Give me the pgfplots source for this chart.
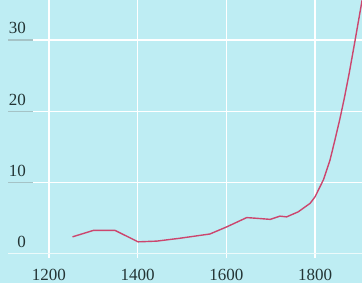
\documentclass[border=0pt]{standalone}
\usepackage{fontspec}
\setmainfont{Liberation Serif}
\usepackage{pgfplots}
\pgfplotsset{compat=1.18}
\definecolor{bgc}{RGB}{190,237,243}
\definecolor{linec}{RGB}{204,70,110}
\definecolor{txtc}{RGB}{35,52,52}
\definecolor{tickc}{RGB}{165,195,198}
\begin{document}
\begin{tikzpicture}
\begin{axis}[
  scale only axis,
  width=362pt, height=283pt,
  xmin=1089.5, xmax=1906,
  ymin=-4.07, ymax=35.6,
  axis background/.style={fill=bgc},
  axis line style={draw=none},
  major tick length=0pt,
  xtick={1200,1400,1600,1800},
  ytick={0,10,20,30},
  /pgf/number format/assume math mode=true,
  /pgf/number format/1000 sep={},
  tick label style={font=\fontsize{17}{17}\selectfont, text=txtc},
  xticklabel style={anchor=center, yshift=8pt},
  yticklabel style={anchor=base east, inner sep=0pt, xshift=26pt, yshift=6pt},
  clip=true,
]
% grid
\foreach \xx in {1200,1400,1600,1800} {
  \edef\tmp{\noexpand\draw[white, line width=1.2pt] (axis cs:\xx,-0.5) -- (axis cs:\xx,35.6);}
  \tmp
}
\foreach \yy in {10,20,30} {
  \edef\tmp{\noexpand\draw[white, line width=1.2pt] (axis cs:1108,\yy) -- (axis cs:1906,\yy);
  \noexpand\draw[tickc, line width=1.2pt] (axis cs:1108,\yy) -- (axis cs:1165,\yy);}
  \tmp
}
\draw[white!70!bgc, line width=1pt] (axis cs:1108,0) -- (axis cs:1906,0);
\addplot[linec, line width=1.4pt, line join=round] coordinates {
(1253,2.4) (1300,3.3) (1349,3.3) (1401,1.7) (1443,1.8) (1495,2.2)
(1563,2.8) (1601,3.8) (1646,5.1) (1668,5.0) (1699,4.85) (1721,5.3)
(1736,5.2) (1762,5.9) (1789,7.1) (1800,8.0) (1819,10.4) (1834,13.2)
(1845,16.0) (1856,18.9) (1866,21.8) (1877,25.3) (1890,29.8) (1908,36.2)
};
\end{axis}
\pgfresetboundingbox
\path (current axis.south west) rectangle (current axis.north east);
\end{tikzpicture}
\end{document}
